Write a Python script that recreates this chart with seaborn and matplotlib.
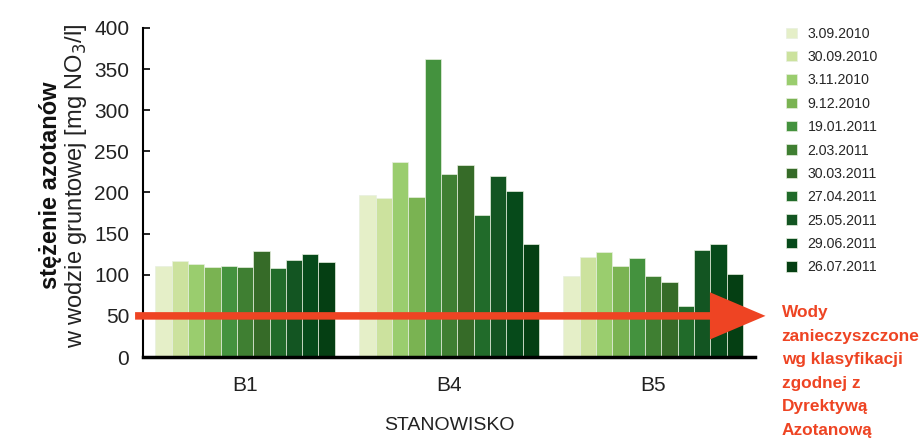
import numpy as np
import pandas as pd
import matplotlib
matplotlib.use('Agg')
import matplotlib.pyplot as plt
import seaborn as sns
from matplotlib import font_manager

# data
sites = ['B1', 'B4', 'B5']
dates = ['3.09.2010', '30.09.2010', '3.11.2010', '9.12.2010', '19.01.2011', '2.03.2011',
         '30.03.2011', '27.04.2011', '25.05.2011', '29.06.2011', '26.07.2011']
b1 = [111, 117, 113, 109, 111, 109, 129, 108, 118, 125, 115]
b4 = [197, 193, 237, 195, 362, 222, 234, 173, 220, 202, 137]
b5 = [99, 122, 128, 111, 120, 98, 91, 62, 130, 137, 101]
limit = 50
note_lines = ['Wody', 'zanieczyszczone', 'wg klasyfikacji', 'zgodnej z', 'Dyrektywą', 'Azotanową']

colors = ['#e5efc8', '#cce29e', '#9acd6e', '#7ab352', '#44923e', '#3f7f32',
          '#366b28', '#216b2a', '#135522', '#064a1a', '#053f13']

rows = []
for site, vals in zip(sites, [b1, b4, b5]):
    for d, v in zip(dates, vals):
        rows.append({'site': site, 'date': d, 'value': v})
df = pd.DataFrame(rows)

sns.set_style('white')
names = {f.name for f in font_manager.fontManager.ttflist}
narrow = 'Liberation Sans Narrow' if 'Liberation Sans Narrow' in names else 'Liberation Sans'
plt.rcParams['font.family'] = ['Liberation Sans', 'DejaVu Sans']

fig = plt.figure(figsize=(9.24, 4.40), dpi=100)
ax = fig.add_axes([0.1548, 0.1886, 0.6624, 0.7478])

sns.barplot(data=df, x='site', y='value', hue='date', palette=colors, saturation=1,
            width=0.88, edgecolor='#e8f0e0', linewidth=0.5, ax=ax, legend=True)

ax.set_xlim(-0.5, 2.5)
ax.set_ylim(0, 400)
ax.set_yticks(range(0, 401, 50))
for s in ['top', 'right']:
    ax.spines[s].set_visible(False)
ax.spines['left'].set_color('black')
ax.spines['left'].set_linewidth(1.5)
ax.spines['bottom'].set_color('black')
ax.spines['bottom'].set_linewidth(2.5)
ax.tick_params(axis='y', direction='in', length=5, width=1.2, color='black', pad=10,
               left=True, labelsize=15, labelcolor='#222222')
ax.tick_params(axis='x', length=0, pad=14, labelsize=15, labelcolor='#222222')
for lab in ax.get_yticklabels() + ax.get_xticklabels():
    lab.set_family(narrow)

ax.set_xlabel('STANOWISKO', fontsize=14, color='#222222', labelpad=15.5, family=narrow)
ax.set_ylabel('')
fig.text(0.055, 0.578, 'stężenie azotanów', rotation=90, ha='center', va='center',
         fontsize=17, fontweight='bold', color='#111111')
fig.text(0.082, 0.578, 'w wodzie gruntowej [mg NO$_3$/l]', rotation=90, ha='center',
         va='center', fontsize=17, color='#222222', family=narrow)

# legend
handles, labels = ax.get_legend_handles_labels()
ax.legend(handles, labels, loc='upper left', bbox_to_anchor=(0.845, 0.952),
          bbox_transform=fig.transFigure, frameon=False, fontsize=10.2,
          handlelength=0.75, handleheight=0.75, handletextpad=0.75, labelspacing=0.66,
          borderaxespad=0)

# limit arrow
ax.annotate('', xy=(1.017, limit), xytext=(-0.013, limit),
            xycoords=ax.get_yaxis_transform(), textcoords=ax.get_yaxis_transform(),
            arrowprops=dict(arrowstyle='simple,head_length=4.0,head_width=3.4,tail_width=0.54',
                            mutation_scale=10, color='#ee4423', shrinkA=0, shrinkB=0, lw=0),
            annotation_clip=False, zorder=5)

# red note, one line at a time
for i, line in enumerate(note_lines):
    fig.text(0.846, 1 - (317 + i * 23.6) / 440, line, ha='left', va='baseline',
             fontsize=12.4, fontweight='bold', color='#ee4423')

fig.savefig('out.png', dpi=100)
